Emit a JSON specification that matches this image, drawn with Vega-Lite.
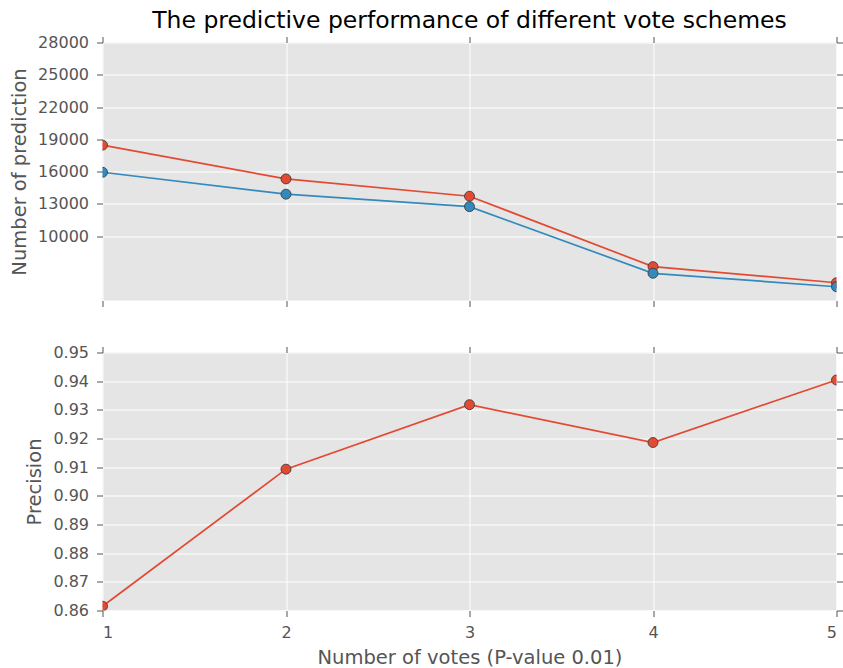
{
  "$schema": "https://vega.github.io/schema/vega-lite/v6.json",
  "padding": {"left": 9.5, "top": 8.5, "right": 0, "bottom": 0},
  "datasets": {
    "counts": [
      {"votes": 1, "series": "total", "count": 18450},
      {"votes": 2, "series": "total", "count": 15310},
      {"votes": 3, "series": "total", "count": 13700},
      {"votes": 4, "series": "total", "count": 7150},
      {"votes": 5, "series": "total", "count": 5650},
      {"votes": 1, "series": "correct", "count": 15930},
      {"votes": 2, "series": "correct", "count": 13890},
      {"votes": 3, "series": "correct", "count": 12730},
      {"votes": 4, "series": "correct", "count": 6530},
      {"votes": 5, "series": "correct", "count": 5280}
    ],
    "precision": [
      {"votes": 1, "precision": 0.8615},
      {"votes": 2, "precision": 0.9093},
      {"votes": 3, "precision": 0.9318},
      {"votes": 4, "precision": 0.9186},
      {"votes": 5, "precision": 0.9404}
    ]
  },
  "config": {
    "font": "DejaVu Sans",
    "view": {"fill": "#E5E5E5", "stroke": null},
    "axis": {
      "domain": false,
      "grid": true,
      "gridColor": "#FFFFFF",
      "gridWidth": 1,
      "gridOpacity": 1,
      "tickColor": "#555555",
      "tickSize": 6,
      "tickWidth": 1,
      "labelColor": "#555555",
      "labelFont": "DejaVu Sans",
      "labelFontSize": 16,
      "labelPadding": 8,
      "titleColor": "#555555",
      "titleFont": "DejaVu Sans",
      "titleFontSize": 19.5,
      "titleFontWeight": "normal"
    }
  },
  "spacing": 37,
  "vconcat": [
    {
      "width": 734,
      "height": 258,
      "title": {
        "text": "The predictive performance of different vote schemes",
        "font": "DejaVu Sans",
        "fontSize": 23.5,
        "fontWeight": "normal",
        "color": "#000000",
        "anchor": "middle",
        "frame": "group",
        "offset": 2
      },
      "data": {"name": "counts"},
      "resolve": {"axis": {"x": "independent", "y": "independent"}},
      "layer": [
        {
          "mark": {"type": "line", "strokeWidth": 1.7, "clip": true},
          "encoding": {
            "x": {"field": "votes", "type": "quantitative", "scale": {"domain": [1, 5], "nice": false},
                  "axis": {"orient": "bottom", "values": [1, 2, 3, 4, 5], "labels": false, "title": null}},
            "y": {"field": "count", "type": "quantitative", "scale": {"domain": [4000, 28000], "nice": false, "zero": false},
                  "axis": {"orient": "left", "values": [10000, 13000, 16000, 19000, 22000, 25000, 28000], "format": "d", "title": "Number of prediction", "titlePadding": 8}},
            "color": {"field": "series", "type": "nominal", "scale": {"domain": ["total", "correct"], "range": ["#E24A33", "#348ABD"]}, "legend": null}
          }
        },
        {
          "mark": {"type": "circle", "size": 100, "opacity": 1, "stroke": "#333333", "strokeWidth": 0.8, "clip": true},
          "encoding": {
            "x": {"field": "votes", "type": "quantitative",
                  "axis": {"orient": "top", "values": [1, 2, 3, 4, 5], "labels": false, "grid": false, "title": null}},
            "y": {"field": "count", "type": "quantitative",
                  "axis": {"orient": "right", "values": [10000, 13000, 16000, 19000, 22000, 25000, 28000], "labels": false, "grid": false, "title": null}},
            "fill": {"field": "series", "type": "nominal", "scale": {"domain": ["total", "correct"], "range": ["#E24A33", "#348ABD"]}, "legend": null}
          }
        }
      ]
    },
    {
      "width": 734,
      "height": 258,
      "data": {"name": "precision"},
      "resolve": {"axis": {"x": "independent", "y": "independent"}},
      "layer": [
        {
          "mark": {"type": "line", "strokeWidth": 1.7, "color": "#E24A33", "clip": true},
          "encoding": {
            "x": {"field": "votes", "type": "quantitative", "scale": {"domain": [1, 5], "nice": false},
                  "axis": {"orient": "bottom", "values": [1, 2, 3, 4, 5], "format": "d", "title": "Number of votes (P-value 0.01)", "titlePadding": 8}},
            "y": {"field": "precision", "type": "quantitative", "scale": {"domain": [0.86, 0.95], "nice": false, "zero": false},
                  "axis": {"orient": "left", "values": [0.86, 0.87, 0.88, 0.89, 0.9, 0.91, 0.92, 0.93, 0.94, 0.95], "format": ".2f", "title": "Precision", "titlePadding": 8}}
          }
        },
        {
          "mark": {"type": "circle", "size": 100, "opacity": 1, "color": "#E24A33", "stroke": "#333333", "strokeWidth": 0.8, "clip": true},
          "encoding": {
            "x": {"field": "votes", "type": "quantitative",
                  "axis": {"orient": "top", "values": [1, 2, 3, 4, 5], "labels": false, "grid": false, "title": null}},
            "y": {"field": "precision", "type": "quantitative",
                  "axis": {"orient": "right", "values": [0.86, 0.87, 0.88, 0.89, 0.9, 0.91, 0.92, 0.93, 0.94, 0.95], "labels": false, "grid": false, "title": null}}
          }
        }
      ]
    }
  ]
}
